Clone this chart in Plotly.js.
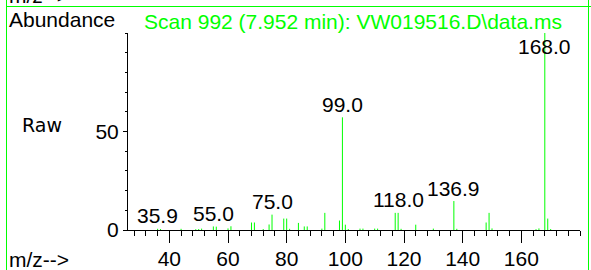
<!DOCTYPE html>
<html>
<head>
<meta charset="utf-8">
<script src="https://cdn.plot.ly/plotly-3.0.1.min.js"></script>
<style>html,body{margin:0;padding:0;background:#fff;}#chart{width:591px;height:270px;}</style>
</head>
<body>
<div id="chart"></div>
<script>
// ---- data ----
const mz = [36, 37, 44, 49, 50, 51, 55, 56, 60, 61, 68, 69, 72, 74, 75, 79, 80, 81, 84, 86, 87, 92, 93, 98, 99, 100, 101, 105, 106, 110, 111, 117, 118, 119, 124, 130, 137, 138, 148, 149, 150, 165, 166, 168, 169, 170];
const abundance = [0.6, 0.5, 0.6, 0.4, 0.5, 0.7, 1.8, 1.7, 0.8, 1.9, 3.8, 3.8, 0.5, 2.8, 7.8, 5.8, 5.8, 0.6, 3.6, 1.8, 1.8, 0.7, 8.7, 4.8, 57.2, 2.7, 0.5, 0.7, 0.7, 0.7, 0.7, 8.7, 8.7, 0.6, 2.7, 0.7, 14.7, 0.6, 3.8, 8.7, 0.8, 0.4, 0.8, 100, 5.8, 0.5];
const peakLabels = ["35.9", "55.0", "75.0", "99.0", "118.0", "136.9", "168.0"];
const xTickVals = [40, 60, 80, 100, 120, 140, 160];
const yTickVals = [0, 50];
const titleText = "Scan 992 (7.952 min): VW019516.D\\data.ms";

// ---- geometry ----
const W = 591, H = 270;
const M = {l: 128, r: 11, t: 33, b: 40};
const PW = W - M.l - M.r, PH = H - M.t - M.b;
const px = x => (x - M.l) / PW;
const py = y => (H - M.b - y) / PH;
const GREEN = '#00ff00';
const FONT = 'Liberation Sans, Arial, sans-serif';

// stick spectrum built from the arrays
const sx = [], sy = [];
mz.forEach((m, i) => { sx.push(m, m, null); sy.push(0, abundance[i], null); });

const annotations = peakLabels.map(lbl => {
  const m = parseFloat(lbl);
  let h = 0;
  mz.forEach((v, i) => { if (Math.abs(v - m) <= 0.5) h = Math.max(h, abundance[i]); });
  return {x: m, y: h, xref: 'x', yref: 'y', text: lbl, showarrow: false,
          xanchor: 'center', yanchor: 'middle', yshift: h > 90 ? -13 : 13,
          font: {family: FONT, size: 21, color: '#000'}};
});
annotations.push(
  {x: px(7), y: py(19), xref: 'paper', yref: 'paper', text: 'Abundance', showarrow: false,
   xanchor: 'left', yanchor: 'middle', font: {family: FONT, size: 21, color: '#000'}},
  {x: px(20), y: py(125), xref: 'paper', yref: 'paper', text: 'Raw', showarrow: false,
   xanchor: 'left', yanchor: 'middle', font: {family: 'DejaVu Sans, sans-serif', size: 19, color: '#000'}},
  {x: px(7), y: py(259), xref: 'paper', yref: 'paper', text: 'm/z-->', showarrow: false,
   xanchor: 'left', yanchor: 'middle', font: {family: FONT, size: 21, color: '#000'}},
  {x: px(7), y: py(-5), xref: 'paper', yref: 'paper', text: 'm/z-->', showarrow: false,
   xanchor: 'left', yanchor: 'middle', font: {family: FONT, size: 21, color: '#000'}},
  {x: px(353), y: py(22), xref: 'paper', yref: 'paper', text: titleText, showarrow: false,
   xanchor: 'center', yanchor: 'middle', font: {family: FONT, size: 21, color: GREEN}}
);

const shapes = [
  {type: 'line', xref: 'paper', yref: 'paper', x0: px(6.5), x1: px(6.5), y0: py(-5), y1: py(280), line: {color: GREEN, width: 1}},
  {type: 'line', xref: 'paper', yref: 'paper', x0: px(588.5), x1: px(588.5), y0: py(-5), y1: py(280), line: {color: GREEN, width: 1}},
  {type: 'line', xref: 'paper', yref: 'paper', x0: px(6.5), x1: px(600), y0: py(6.5), y1: py(6.5), line: {color: GREEN, width: 1}}
];

const trace = {x: sx, y: sy, type: 'scatter', mode: 'lines', line: {color: GREEN, width: 1}, hoverinfo: 'skip'};

const layout = {
  width: W, height: H,
  margin: M,
  paper_bgcolor: '#fff', plot_bgcolor: '#fff',
  showlegend: false,
  xaxis: {
    range: [25.9, 180.0], showgrid: false, zeroline: false,
    showline: true, linecolor: '#000', linewidth: 1,
    tickmode: 'array', tickvals: xTickVals, ticktext: xTickVals.map(String),
    ticks: 'outside', ticklen: 12, tickcolor: '#000', tickwidth: 1,
    ticklabelstandoff: -2,
    minor: {dtick: 4, tick0: 0, ticks: 'outside', ticklen: 5, tickcolor: '#000', tickwidth: 1, showgrid: false},
    tickfont: {family: FONT, size: 21, color: '#000'}
  },
  yaxis: {
    range: [0, 100], showgrid: false, zeroline: false,
    showline: true, linecolor: '#000', linewidth: 1,
    tickmode: 'array', tickvals: yTickVals, ticktext: yTickVals.map(String),
    ticks: 'outside', ticklen: 4, tickcolor: '#000', tickwidth: 1,
    minor: {dtick: 10, tick0: 0, ticks: 'outside', ticklen: 2, tickcolor: '#000', tickwidth: 1, showgrid: false},
    tickfont: {family: FONT, size: 21, color: '#000'}
  },
  annotations: annotations,
  shapes: shapes
};

Plotly.newPlot('chart', [trace], layout, {staticPlot: true, displayModeBar: false});
</script>
</body>
</html>
